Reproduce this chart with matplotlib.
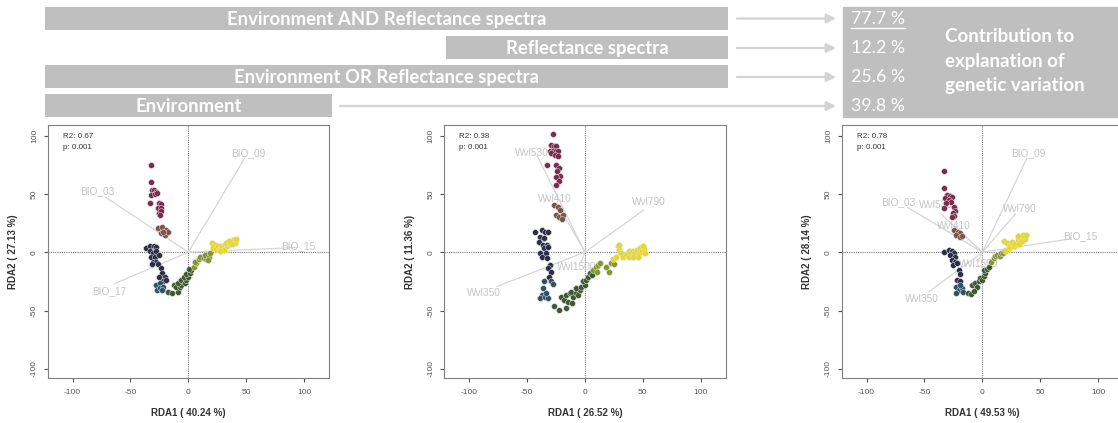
import matplotlib
matplotlib.use("Agg")
import matplotlib.pyplot as plt
from matplotlib.patches import Rectangle

# ---- banner data ----
bar_labels = ["Environment AND Reflectance spectra", "Reflectance spectra",
              "Environment OR Reflectance spectra", "Environment"]
contrib_pct = [77.7, 12.2, 25.6, 39.8]
contrib_text = ["Contribution to", "explanation of", "genetic variation"]

# ---- panel data ----
rda1_pct = [40.24, 26.52, 49.53]
rda2_pct = [27.13, 11.36, 28.14]
r2_vals = [0.67, 0.38, 0.78]
p_vals = [0.001, 0.001, 0.001]
tick_vals = [-100, -50, 0, 50, 100]

p1_vec_names = ["BIO_09", "BIO_03", "BIO_15", "BIO_17"]
p1_vec_x = [48.6, -71.4, 93, -64]
p1_vec_y = [80.6, 47, 4, -27]
p1_lab_x = [51.5, -79, 95, -68]
p1_lab_y = [85, 52, 4.8, -33]

p2_vec_names = ["Wvl530", "Wvl410", "Wvl790", "Wvl350", "Wvl1500"]
p2_vec_x = [-40.9, -24, 50.6, -76, -3]
p2_vec_y = [82, 42, 36, -29.4, -8]
p2_lab_x = [-46, -26, 55.5, -87.6, -7.5]
p2_lab_y = [85, 46, 43, -35, -12.9]

p3_vec_names = ["BIO_09", "BIO_03", "Wvl530", "Wvl410", "Wvl790", "BIO_15", "Wvl1500", "Wvl350"]
p3_vec_x = [38.5, -64.4, -36, -19, 28.4, 76, -4, -46]
p3_vec_y = [80.6, 38.3, 33, 17.7, 32.6, 11.4, -8, -33.7]
p3_lab_x = [40, -72.7, -40.5, -24.7, 32, 84.5, -3, -52.6]
p3_lab_y = [85, 42.9, 40.6, 22.6, 37.4, 14, -10.3, -40]

p1_points = {
    "maroon": [(-32, 75), (-32.5, 60), (-31, 53.4), (-30, 52.9), (-28.3, 52), (-32, 49), (-29, 50),
               (-27, 50.6), (-33.4, 42), (-25, 42), (-24, 41.4), (-26, 37.7), (-23.3, 37.7),
               (-25, 33.4), (-23.6, 35.7), (-24.7, 32)],
    "brown": [(-26, 20.6), (-22.4, 21.4), (-19, 19), (-23.3, 16.3), (-20.4, 15), (-17.5, 16.9), (-21.9, 17.7)],
    "navy": [(-37, 3.4), (-32.8, 5.4), (-30, 4.9), (-27.6, 4.3), (-33.4, 0.6), (-30.5, -0.9), (-27.6, 0.6),
             (-32, -3.7), (-29, -3.7), (-25.3, -2.3), (-30.5, -8), (-27.6, -8), (-31, -10), (-26.2, -10),
             (-23.3, -13.7), (-22.4, -18), (-25.3, -20.9), (-20.4, -20.9), (-21.9, -24.3), (-19.6, -23.7)],
    "teal": [(-27.6, -28), (-24.7, -26.6), (-27, -32), (-24.2, -30.9), (-21.9, -29.4), (-22.4, -32.3)],
    "green": [(-17.5, -33.7), (-13.8, -35), (-8.9, -33.7), (-12.7, -28), (-10.4, -29.4), (-7.5, -29.4),
              (-6, -28), (-8.9, -26.6), (-4.6, -25), (-6, -23.7), (-3.2, -26.6), (-1.7, -23.7),
              (-4, -21.4), (-0.3, -20.9), (-2.3, -18.6), (1.2, -17.4), (2.6, -15), (0.6, -14.6)],
    "olive": [(4.6, -12.3), (6.9, -9.4), (5.5, -8), (9.2, -6), (9.8, -3.7), (13.2, -5.1), (15.5, -6),
              (14.1, -2.3), (17.8, -3.7), (17, -6.6), (19, -0.9)],
    "yellow": [(20.7, 8.3), (22.7, 6.3), (21.3, 3.4), (24.2, 2.6), (25.6, 4.9), (27, 2.6), (28.5, 5.4),
               (29.4, 3.4), (31.4, 6.3), (33.4, 4.9), (32.8, 7.7), (35.7, 7.1), (37.1, 9.1), (38.6, 10.6),
               (40, 8.3), (40.9, 11.1), (38, 7.1), (35.1, 10), (30.5, 2), (27, 0.6)],
}

p2_points = {
    "maroon": [(-28, 101), (-28.9, 92), (-26.9, 91), (-24.6, 90.6), (-29.8, 87), (-27.5, 86.3), (-25.2, 87),
               (-22.9, 86.3), (-28.9, 84.9), (-26, 83.4), (-23.2, 82.6), (-32.6, 74.9), (-24.6, 74.9),
               (-22.3, 72), (-24, 70), (-21.2, 64.9), (-24.6, 64.3), (-22.3, 60.6), (-25.2, 57.7)],
    "brown": [(-26.9, 40.6), (-23.2, 38.6), (-21.2, 36.3), (-25.2, 32), (-22.3, 30), (-18.9, 32), (-19.5, 28.3)],
    "navy": [(-43.2, 17.7), (-37.5, 19.1), (-34.6, 16.9), (-31.8, 16.9), (-38.9, 13.4), (-35.5, 12),
             (-39.5, 9.1), (-36.6, 6.3), (-33.2, 6.3), (-35.5, 3.4), (-31.8, 4.3), (-38.9, -0.3),
             (-33.8, -0.9), (-37.5, -4.3), (-33.2, -5.1), (-29.8, -10.9), (-31.8, -13.7), (-28.9, -16.6),
             (-30.9, -20.9)],
    "teal": [(-28.9, -25.1), (-27.5, -27.1), (-35.5, -25.1), (-36.1, -30.9), (-37.5, -36.6), (-38.9, -39.4),
             (-34.6, -38), (-31.8, -39.4), (-33.8, -35.1)],
    "green": [(-26.9, -46), (-22.3, -49.4), (-16, -48), (-20.3, -38), (-18.3, -40.9), (-14.6, -42.3),
              (-10.9, -43.7), (-16, -36.6), (-13.2, -35.1), (-10.3, -38), (-11.7, -33.7), (-8, -34.6),
              (-6, -36.6), (-4.6, -32.3), (-7.4, -30.9), (-3.1, -29.4), (-0.3, -28), (-1.7, -25.1),
              (1.1, -23.7), (2.6, -20.9), (4.6, -18), (6.3, -19.4)],
    "olive": [(6.9, -15.1), (9.2, -12.3), (11.2, -10.9), (12.6, -8.9), (10.3, -16.6), (18.3, -12.3),
              (20.6, -16.6), (22.6, -9.4), (25.5, -10)],
    "yellow": [(24, -6), (26.9, -3.7), (28.3, 4.9), (29.8, 2), (31.2, -0.9), (33.2, -3.7), (35.5, -2.3),
               (38.3, -3.7), (39.8, -0.9), (41.2, 1.4), (42.6, -1.4), (44.6, 2), (46.4, -0.3), (47.5, 3.4),
               (49.2, 0.6), (51.2, 2.6), (49.8, 5.4), (52, -0.9), (45.5, -3.7), (41.8, -4.3), (37.8, 0.6),
               (29.8, 6.3)],
}

p3_points = {
    "maroon": [(-32.8, 70), (-32.8, 54.9), (-30.5, 49.1), (-28.2, 48.3), (-26.1, 47.1), (-31.9, 46.3),
               (-29, 44.9), (-27, 43.4), (-31, 42), (-32.8, 37.7), (-24.7, 39.1), (-23.3, 35.7),
               (-25.3, 34), (-24.1, 31.1), (-26.1, 30)],
    "brown": [(-24.7, 19.1), (-21.3, 17.7), (-19, 16.3), (-22.4, 14.9), (-19.5, 13.4), (-17.5, 14)],
    "navy": [(-32.8, 0), (-29, 2), (-26.1, 1.4), (-24.7, -0.9), (-27.6, -2.3), (-23.3, -3.7), (-26.1, -6.6),
             (-23.3, -8), (-25.3, -10.9), (-21.8, -9.4), (-20.4, -15.1), (-19, -18.6), (-21.8, -23.7),
             (-19, -25.1)],
    "teal": [(-22.4, -29.4), (-20.4, -32.3), (-22.4, -34.6), (-17.5, -30.9), (-16.7, -33.7), (-19, -28)],
    "green": [(-12.6, -35.1), (-9.8, -35.7), (-8.9, -28), (-6, -26.6), (-4.6, -29.4), (-6.9, -32.9),
              (-3.2, -25.1), (-1.7, -22.3), (-0.3, -23.7), (1.1, -20.3), (2.6, -18), (1.7, -15.1),
              (4, -14.6), (5.5, -12.3)],
    "olive": [(7.5, -8), (9.8, -5.1), (11.2, -3.1), (12.6, -2.3), (14.9, -3.1), (16.1, -0.3), (17.8, -0.9),
              (19.8, 0.6)],
    "yellow": [(19, 10), (21.3, 7.7), (24.1, 6.3), (22.7, 3.4), (20.7, 1.4), (25.6, 9.1), (27, 4.9),
               (28.4, 7.1), (30.5, 10.6), (31.3, 7.1), (32.8, 12), (34.2, 10), (35.6, 13.4), (37.1, 11.1),
               (35, 14.9), (37.9, 14.9), (30.5, 14)],
}

group_colors = {"maroon": "#7c2a4e", "brown": "#7e5448", "navy": "#2e2d48", "teal": "#2f5366",
                "green": "#3e5a31", "olive": "#86952f", "yellow": "#e9d821"}

W, H = 1118, 423
fig = plt.figure(figsize=(W / 100, H / 100), dpi=100)
fig.patch.set_facecolor("white")

# ---- banner (pixel coordinates) ----
ax0 = fig.add_axes([0, 0, 1, 1])
ax0.set_xlim(0, W)
ax0.set_ylim(H, 0)
ax0.axis("off")

row_y = [18.5, 48, 77, 106]
bar_start = [45, 446, 45, 45]
bar_end = [728, 728, 728, 332]
arrow_start = [737, 737, 737, 340]
banner_gray = "#bfbfbf"
bfont = "Lato"

ax0.barh(row_y, [e - s for s, e in zip(bar_start, bar_end)], left=bar_start,
         height=23, color=banner_gray)
for lab, y, s, e in zip(bar_labels, row_y, bar_start, bar_end):
    ax0.text((s + e) / 2, y + 0.5, lab, ha="center", va="center", color="white",
             fontsize=13.3, fontweight="bold", family=bfont)

for y, s in zip(row_y, arrow_start):
    ax0.annotate("", xy=(836, y), xytext=(s, y),
                 arrowprops=dict(arrowstyle="-|>", color="#d3d3d3", lw=1.6,
                                 mutation_scale=14, shrinkA=0, shrinkB=0))

ax0.add_patch(Rectangle((843, 7), 290, 110, color=banner_gray))
for i, (v, y) in enumerate(zip(contrib_pct, row_y)):
    ax0.text(851, y, f"{v:.1f} %", ha="left", va="center", color="white",
             fontsize=12.8, family=bfont)
ax0.plot([851, 905], [28.5, 28.5], color="white", lw=1)
for txt, y in zip(contrib_text, [37, 62, 86]):
    ax0.text(945, y, txt, ha="left", va="center", color="white",
             fontsize=13.5, fontweight="bold", family=bfont)

# ---- RDA panels ----
panels = [
    (p1_points, p1_vec_names, p1_vec_x, p1_vec_y, p1_lab_x, p1_lab_y),
    (p2_points, p2_vec_names, p2_vec_x, p2_vec_y, p2_lab_x, p2_lab_y),
    (p3_points, p3_vec_names, p3_vec_x, p3_vec_y, p3_lab_x, p3_lab_y),
]
panel_left = [47.7, 444.3, 841.7]
ax_w, ax_top, ax_bot = 281.3, 125, 378

for i, (pts, names, vx, vy, lx, ly) in enumerate(panels):
    ax = fig.add_axes([panel_left[i] / W, (H - ax_bot) / H, ax_w / W, (ax_bot - ax_top) / H])
    ax.set_xlim(-121.5, 121.5)
    ax.set_ylim(-107.8, 109)

    ax.axhline(0, color="#777777", lw=0.8, ls=(0, (1, 1)), zorder=1)
    ax.axvline(0, color="#777777", lw=0.8, ls=(0, (1, 1)), zorder=1)

    for n, x, y, tx, ty in zip(names, vx, vy, lx, ly):
        ax.plot([0, x], [0, y], color="#d6d6d6", lw=0.9, zorder=2)
        ax.text(tx, ty, n, ha="center", va="center", color="#c4c4c4",
                fontsize=7.3, family="Liberation Sans", zorder=3)

    for g, xy in pts.items():
        ax.scatter([p[0] for p in xy], [p[1] for p in xy], s=18, color=group_colors[g],
                   edgecolors="#e0e0e0", linewidths=0.35, zorder=4)

    ax.text(0.054, 0.954, f"R2: {r2_vals[i]}", transform=ax.transAxes, ha="left", va="center",
            fontsize=5.8, color="#333333", family="Liberation Sans")
    ax.text(0.054, 0.912, f"p: {p_vals[i]}", transform=ax.transAxes, ha="left", va="center",
            fontsize=5.8, color="#333333", family="Liberation Sans")

    ax.set_xticks(tick_vals)
    ax.set_yticks(tick_vals)
    ax.set_xticklabels([str(t) for t in tick_vals], family="Liberation Sans")
    ax.set_yticklabels([str(t) for t in tick_vals], family="Liberation Sans",
                       rotation=90, va="center")
    ax.tick_params(axis="x", length=3, pad=5, labelsize=6, colors="#555555")
    ax.tick_params(axis="y", length=3, pad=4, labelsize=6, colors="#555555")
    for t in ax.xaxis.get_ticklines() + ax.yaxis.get_ticklines():
        t.set_color("#999999")
    for sp in ax.spines.values():
        sp.set_color("#808080")
        sp.set_linewidth(0.8)

    ax.set_xlabel(f"RDA1 ( {rda1_pct[i]:.2f} %)", fontsize=7, fontweight="bold",
                  color="#333333", family="Liberation Sans")
    ax.set_ylabel(f"RDA2 ( {rda2_pct[i]:.2f} %)", fontsize=7, fontweight="bold",
                  color="#333333", family="Liberation Sans")
    ax.xaxis.set_label_coords(0.5, -0.138)
    ax.yaxis.set_label_coords(-0.122, 0.5)
    ax.xaxis.label.set_va("center")
    ax.yaxis.label.set_va("center")

fig.savefig("out.png", dpi=100)
